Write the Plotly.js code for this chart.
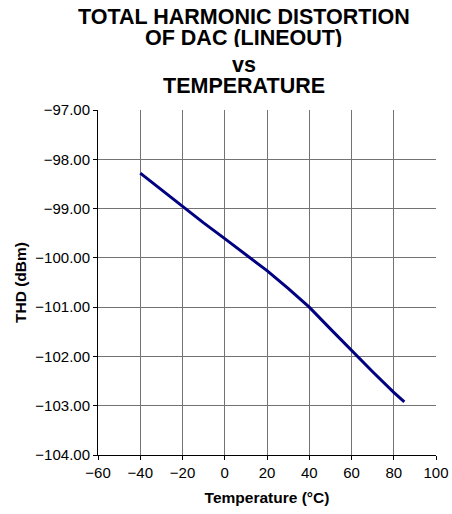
<!DOCTYPE html>
<html>
<head>
<meta charset="utf-8">
<script src="https://cdn.plot.ly/plotly-3.0.1.min.js"></script>
<style>html,body{margin:0;padding:0;background:#fff;}#chart{width:452px;height:514px;}</style>
</head>
<body>
<div id="chart"></div>
<script>
// Data
const temperature = [-40, -30, -20, -10, 0, 10, 20, 30, 40, 50, 60, 70, 80, 85];
const thd = [-98.28, -98.62, -98.95, -99.29, -99.61, -99.94, -100.26, -100.62, -101.00, -101.44, -101.88, -102.31, -102.73, -102.92];
const titleLines = ["TOTAL HARMONIC DISTORTION", "OF DAC (LINEOUT)", "vs", "TEMPERATURE"];
const titleY = [1.270, 1.211, 1.131, 1.072];
const xTicks = [-60, -40, -20, 0, 20, 40, 60, 80, 100];
const yTicks = [-104, -103, -102, -101, -100, -99, -98, -97];

const FONT = "Liberation Sans, Arial, Helvetica, sans-serif";

const trace = {
  x: temperature,
  y: thd,
  type: "scatter",
  mode: "lines",
  line: {color: "#000080", width: 3},
  hoverinfo: "skip"
};

const annotations = titleLines.map((t, i) => ({
  text: "<b>" + t + "</b>",
  xref: "paper", yref: "paper",
  x: 0.431, y: titleY[i],
  xanchor: "center", yanchor: "middle",
  height: 19, borderpad: 0, valign: "middle",
  showarrow: false,
  font: {family: FONT, size: 21.5, color: "#000"}
}));

const layout = {
  width: 452, height: 514,
  margin: {l: 98, r: 16, t: 110, b: 58.5, pad: 0},
  paper_bgcolor: "#fff", plot_bgcolor: "#fff",
  showlegend: false,
  font: {family: FONT, size: 15, color: "#000"},
  annotations: annotations,
  xaxis: {
    range: [-60, 100],
    tickvals: xTicks,
    ticktext: xTicks.map(v => v < 0 ? "\u2212" + Math.abs(v) : String(v)),
    ticks: "outside", ticklen: 4, tickcolor: "#000", tickwidth: 1,
    showline: true, linecolor: "#000", linewidth: 1,
    showgrid: true, gridcolor: "#737373", gridwidth: 1,
    zeroline: false,
    tickfont: {family: FONT, size: 15, color: "#000"},
    title: {text: "<b>Temperature (°C)</b>", font: {family: FONT, size: 15.5, color: "#000"}, standoff: 12}
  },
  yaxis: {
    range: [-104, -97],
    tickvals: yTicks,
    ticktext: yTicks.map(v => "\u2212" + Math.abs(v).toFixed(2)),
    ticks: "outside", ticklen: 4, tickcolor: "#000", tickwidth: 1,
    showline: true, linecolor: "#000", linewidth: 1,
    showgrid: true, gridcolor: "#737373", gridwidth: 1,
    zeroline: false,
    tickfont: {family: FONT, size: 15, color: "#000"},
    title: {text: "<b>THD (dBm)</b>", font: {family: FONT, size: 15.5, color: "#000"}, standoff: 4}
  }
};

Plotly.newPlot("chart", [trace], layout, {displayModeBar: false, staticPlot: true});
</script>
</body>
</html>
